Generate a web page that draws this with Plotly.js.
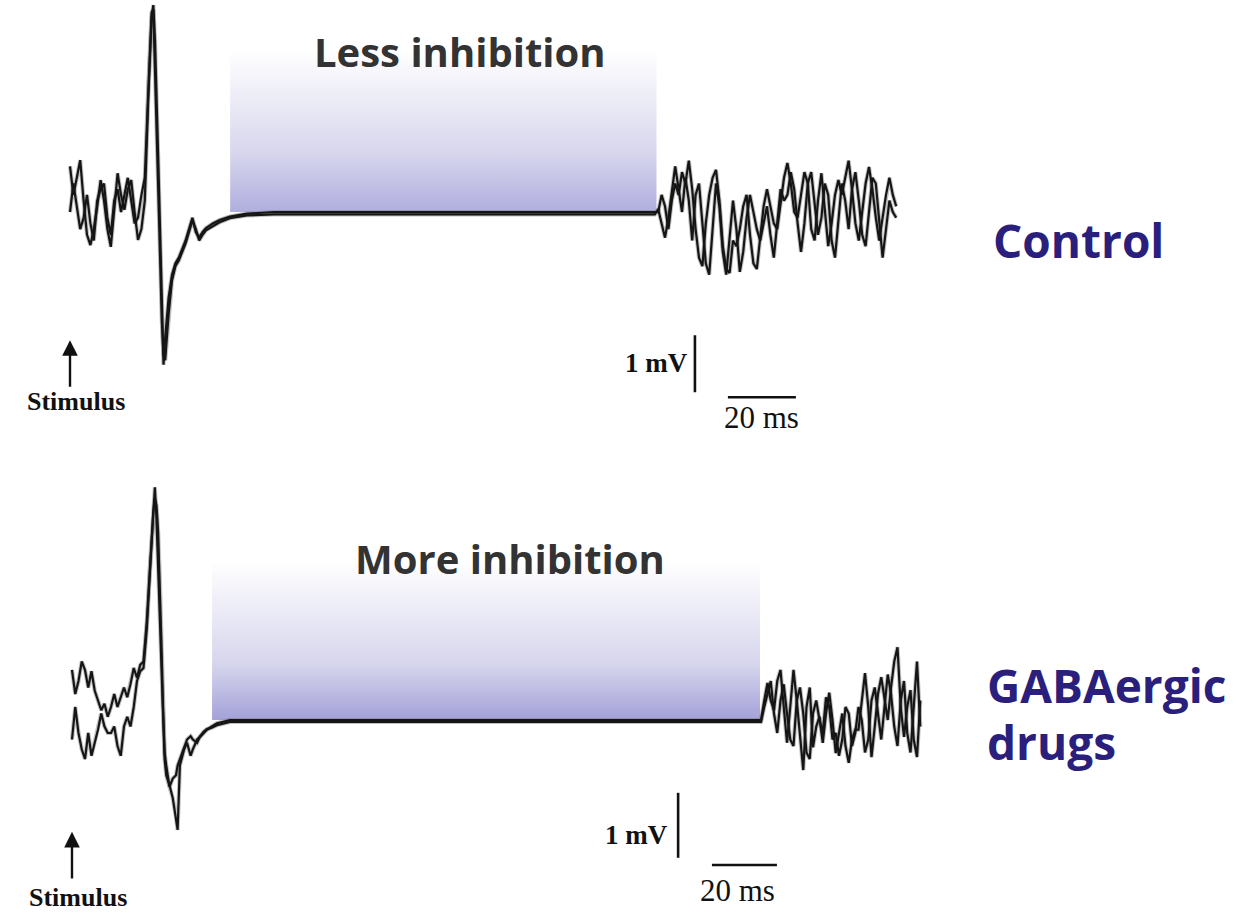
<!DOCTYPE html>
<html>
<head>
<meta charset="utf-8">
<script src="https://cdn.plot.ly/plotly-3.0.1.min.js"></script>
<style>html,body{margin:0;padding:0;background:#fff;}#chart{width:1258px;height:913px;}</style>
</head>
<body>
<div id="chart"></div>
<script>
// ---------- Control (top) panel: two superimposed sweeps, time in ms, voltage in mV ----------
const topPreTime = [0,1,2,3,4,5,6,7,8,9,10,11,12,13,14,15,16,17,18,19,20,21,22,23];
const topPreA = [0.8,0.3,0.6,0.91,0.2,-0.4,-0.58,-0.3,0.1,0.56,0.2,-0.3,-0.61,0.1,0.68,0.3,0.04,0.4,0.56,0.0,-0.49,-0.3,0.2,2.0];
const topPreB = [0.0,0.5,0.1,-0.3,-0.1,0.3,-0.2,-0.5,0.2,0.4,0.5,-0.1,-0.4,0.2,0.4,0.0,0.3,0.6,0.2,-0.2,-0.1,0.3,0.6,2.2];

const topSpikeTime = [24,24.5,25,26,27,27.5,28,29,30,31,32,33,34,35,36,37,38,39,40,42,44,47,52,60,100,140,172];
const topSpikeA = [3.4,3.63,3.0,0.8,-1.8,-2.68,-2.2,-1.5,-1.1,-0.9,-0.8,-0.65,-0.5,-0.3,-0.1,-0.35,-0.45,-0.35,-0.28,-0.2,-0.14,-0.08,-0.03,0,0,0,0];
const topSpikeB = [3.5,3.55,2.6,0.3,-1.9,-2.5,-2.6,-1.8,-1.2,-0.95,-0.85,-0.7,-0.55,-0.35,-0.15,-0.3,-0.5,-0.4,-0.32,-0.25,-0.18,-0.11,-0.06,-0.04,-0.04,-0.04,-0.04];

const topTailTime = [173,174,175,176,177,178,179,180,181,182,183,184,185,186,187,188,189,190,191,192,193,194,195,196,197,198,199,200,201,202,203,204,205,206,207,208,209,210,211,212,213,214,215,216,217,218,219,220,221,222,223,224,225,226,227,228,229,230,231,232,233,234,235,236,237,238,239,240,241,242,243];
const topTailA = [0.0,0.3,0.1,-0.3,0.2,0.5,0.3,0.7,0.5,0.9,
  0.4,-0.3,-0.8,-0.95,-0.2,0.3,0.6,0.74,0.2,-0.6,
  -1.0,-1.07,-0.5,-0.6,-0.3,0.1,0.3,-0.4,-0.9,-1.0,
  -0.4,0.1,0.4,0.1,-0.2,-0.3,0.2,0.6,0.86,0.5,
  0.0,-0.1,0.3,0.7,0.5,-0.3,-0.5,0.2,0.68,0.1,
  -0.6,-0.2,0.3,0.56,0.3,0.6,0.9,0.4,-0.2,-0.5,
  0.0,0.5,0.79,0.4,-0.1,-0.5,-0.1,0.3,0.6,0.3,
  0.1];
const topTailB = [0.05,-0.2,-0.45,-0.1,0.4,0.8,0.4,0.0,0.6,0.2,
  -0.5,0.3,0.5,-0.2,-0.9,-1.1,-0.3,0.5,0.1,-0.7,
  -1.1,-0.4,0.2,-0.3,-1.05,-0.7,-0.1,0.3,0.0,-0.3,
  -0.5,-0.2,0.1,-0.4,-0.8,-0.2,0.4,0.2,0.3,0.7,
  0.4,-0.2,-0.7,-0.2,0.5,0.7,0.2,-0.4,-0.1,0.5,
  0.3,-0.5,-0.8,-0.1,0.5,0.2,-0.3,0.4,0.7,0.2,
  -0.4,-0.6,0.0,0.6,0.5,-0.2,-0.8,-0.3,0.2,0.0,
  -0.1];

// ---------- GABAergic drugs (bottom) panel ----------
const botPreTime = [0,1,2,3,4,5,6,7,8,9,10,11,12,13,14,15,16,17,18,19,20,21,22];
const botPreA = [0.77,0.4,0.6,0.9,0.77,0.5,0.75,0.45,0.3,0.15,0.25,0.05,0.2,0.4,0.2,0.35,0.5,0.35,0.55,0.8,0.65,0.85,0.9];
const botPreB = [-0.3,0.2,-0.2,-0.45,-0.6,-0.2,-0.55,-0.35,-0.15,0.1,-0.1,-0.2,-0.2,-0.1,-0.4,-0.55,-0.1,0.05,-0.1,0.2,0.6,0.75,0.8];

const botSpikeTime = [23,24,25,25.5,26,26.5,27,27.5,28,28.5,29,30,31,32,32.5,33.2,34.5,35.4,36.5,37.2,38.5,39.4,40.5,41.5,43,44.6,48.6,60,100,150,211];
const botSpikeA = [1.5,2.4,3.3,3.58,3.1,2.4,1.5,0.8,0.0,-0.6,-0.85,-1.0,-1.2,-1.5,-1.69,-0.7,-0.45,-0.35,-0.55,-0.45,-0.3,-0.26,-0.2,-0.15,-0.1,-0.05,0.0,0,0,0,0];
const botSpikeB = [1.4,2.3,3.2,3.4,3.3,2.9,2.2,1.2,0.2,-0.5,-0.7,-1.03,-0.9,-0.85,-0.7,-0.6,-0.4,-0.3,-0.25,-0.3,-0.35,-0.25,-0.18,-0.14,-0.12,-0.08,-0.03,-0.03,-0.03,-0.03,-0.03];

const botTailTime = [212,213,214,215,216,217,218,219,220,221,222,223,224,225,226,227,228,229,230,231,232,233,234,235,236,237,238,239,240,241,242,243,244,245,246,247,248,249,250,251,252,253,254,255,256,257,258,259,260,261];
const botTailA = [0.0,0.3,0.57,0.3,0.15,0.6,0.77,0.2,-0.35,0.2,
  0.77,0.3,-0.3,-0.77,0.2,0.5,-0.42,-0.1,0.05,-0.35,
  0.1,0.42,0.0,-0.51,-0.2,0.1,-0.4,-0.66,-0.3,-0.15,
  -0.15,0.3,0.72,0.2,-0.57,-0.1,0.4,0.66,0.3,0.0,
  0.5,0.9,1.12,0.2,-0.26,0.2,0.46,-0.3,-0.57,0.3];
const botTailB = [-0.03,0.2,0.4,0.6,0.1,-0.2,0.3,0.55,0.1,-0.3,
  -0.4,0.3,0.5,0.1,-0.5,-0.6,0.1,0.3,0.0,-0.2,
  0.35,0.2,-0.3,-0.2,-0.55,-0.3,0.2,0.1,-0.4,-0.2,
  0.2,0.0,-0.5,-0.3,0.3,0.5,0.1,-0.3,0.2,0.7,
  0.4,-0.1,-0.4,0.3,0.6,-0.2,-0.5,0.2,0.9,-0.1];

// inhibition windows (ms) and labels
const topWindow = [47.1, 172.5];
const botWindow = [43.1, 211.7];
const topWindowHeight = 2.84;
const botWindowHeight = 2.45;
const windowLabels = ['Less inhibition', 'More inhibition'];
const conditionLabels = ['Control', 'GABAergic', 'drugs'];
const scaleBar = {ms: 20, mV: 1, msLabel: '20 ms', mVLabel: '1 mV'};
const stimulusLabel = 'Stimulus';

// ---------- build traces ----------
const cat = (...a) => [].concat(...a);
const haloStyle = {color: 'rgba(120,120,120,0.45)', width: 4.2};
const lineStyle = {color: '#151515', width: 2.2};

function windowTrace(win, h, xa, ya, bottomColor) {
  return {
    type: 'scatter', mode: 'lines', xaxis: xa, yaxis: ya,
    x: [win[0], win[1], win[1], win[0], win[0]],
    y: [0, 0, h, h, 0],
    fill: 'toself',
    fillgradient: {type: 'vertical', colorscale: [[0, bottomColor], [0.35, 'rgb(214,213,237)'], [1, 'rgb(255,255,255)']]},
    line: {width: 0}, hoverinfo: 'skip'
  };
}
function sweep(t, v, xa, ya, style) {
  return {type: 'scatter', mode: 'lines', x: t, y: v, xaxis: xa, yaxis: ya, line: style, hoverinfo: 'skip'};
}

const sweeps = [
  [cat(topPreTime, topSpikeTime, topTailTime), cat(topPreA, topSpikeA, topTailA), 'x', 'y'],
  [cat(topPreTime, topSpikeTime, topTailTime), cat(topPreB, topSpikeB, topTailB), 'x', 'y'],
  [cat(botPreTime, botSpikeTime, botTailTime), cat(botPreA, botSpikeA, botTailA), 'x2', 'y2'],
  [cat(botPreTime, botSpikeTime, botTailTime), cat(botPreB, botSpikeB, botTailB), 'x2', 'y2']
];

const traces = cat(
  [windowTrace(topWindow, topWindowHeight, 'x', 'y', 'rgb(176,174,222)'),
   windowTrace(botWindow, botWindowHeight, 'x2', 'y2', 'rgb(164,161,216)')],
  sweeps.map(s => sweep(s[0], s[1], s[2], s[3], haloStyle)),
  sweeps.map(s => sweep(s[0], s[1], s[2], s[3], lineStyle))
);

// ---------- scale bars ----------
function scaleShapes(xa, ya, vx, vTop, hx, hy) {
  const ln = {color: '#111', width: 2.6};
  return [
    {type: 'line', xref: xa, yref: ya, x0: vx, x1: vx, y0: vTop, y1: vTop - scaleBar.mV, line: ln},
    {type: 'line', xref: xa, yref: ya, x0: hx, x1: hx + scaleBar.ms, y0: hy, y1: hy, line: ln}
  ];
}
const shapes = cat(
  scaleShapes('x', 'y', 183.8, -2.16, 193.5, -3.25),
  scaleShapes('x2', 'y2', 186.5, -1.12, 196.9, -2.23)
);

const sansBold = {family: 'Open Sans', weight: 700};
const serif = {family: 'Liberation Serif', color: '#111'};

function ann(o) { return Object.assign({showarrow: false, xanchor: 'center', yanchor: 'middle'}, o); }

const annotations = [
  ann({xref: 'x', yref: 'y', x: 114.7, y: 2.81, text: windowLabels[0], font: Object.assign({size: 40, color: '#333333'}, sansBold)}),
  ann({xref: 'x2', yref: 'y2', x: 134.8, y: 2.49, text: windowLabels[1], font: Object.assign({size: 40, color: '#333333'}, sansBold)}),
  ann({xref: 'x', yref: 'y', x: 296.5, y: -0.49, text: conditionLabels[0], font: Object.assign({size: 46, color: '#2a1f7c'}, sansBold)}),
  ann({xref: 'x2', yref: 'y2', x: 280.9, y: 0.54, xanchor: 'left', text: conditionLabels[1], font: Object.assign({size: 46, color: '#2a1f7c'}, sansBold)}),
  ann({xref: 'x2', yref: 'y2', x: 280.9, y: -0.34, xanchor: 'left', text: conditionLabels[2], font: Object.assign({size: 46, color: '#2a1f7c'}, sansBold)}),
  // stimulus arrows
  {xref: 'x', yref: 'y', axref: 'x', ayref: 'y', x: 0, y: -2.25, ax: 0, ay: -3.09, text: '', showarrow: true, arrowhead: 2, arrowsize: 1.3, arrowwidth: 2.4, arrowcolor: '#111'},
  {xref: 'x2', yref: 'y2', axref: 'x2', ayref: 'y2', x: 0, y: -1.72, ax: 0, ay: -2.46, text: '', showarrow: true, arrowhead: 2, arrowsize: 1.3, arrowwidth: 2.4, arrowcolor: '#111'},
  ann({xref: 'x', yref: 'y', x: 1.9, y: -3.33, text: stimulusLabel, font: Object.assign({size: 26, weight: 700}, serif)}),
  ann({xref: 'x2', yref: 'paper', x: 1.85, y: 0, yanchor: 'bottom', borderpad: 0, text: stimulusLabel, font: Object.assign({size: 26, weight: 700}, serif)}),
  // scale bar labels
  ann({xref: 'x', yref: 'y', x: 182.4, y: -2.65, xanchor: 'right', text: scaleBar.mVLabel, font: Object.assign({size: 27, weight: 700}, serif)}),
  ann({xref: 'x', yref: 'y', x: 203.4, y: -3.6, text: scaleBar.msLabel, font: Object.assign({size: 31}, serif)}),
  ann({xref: 'x2', yref: 'y2', x: 184.0, y: -1.77, xanchor: 'right', text: scaleBar.mVLabel, font: Object.assign({size: 27, weight: 700}, serif)}),
  ann({xref: 'x2', yref: 'y2', x: 204.9, y: -2.62, text: scaleBar.msLabel, font: Object.assign({size: 31}, serif)})
];

const hiddenAxis = {visible: false, fixedrange: true, showgrid: false, zeroline: false};
const layout = {
  width: 1258, height: 913,
  margin: {l: 0, r: 0, t: 0, b: 0, pad: 0},
  paper_bgcolor: '#ffffff', plot_bgcolor: 'rgba(0,0,0,0)',
  showlegend: false,
  xaxis: Object.assign({domain: [0, 1], anchor: 'y', range: [-20.59, 349.41]}, hiddenAxis),
  yaxis: Object.assign({domain: [0.5, 1], anchor: 'x', range: [-4.289, 3.719]}, hiddenAxis),
  xaxis2: Object.assign({domain: [0, 1], anchor: 'y2', range: [-22.15, 364.92]}, hiddenAxis),
  yaxis2: Object.assign({domain: [0, 0.5], anchor: 'x2', range: [-2.969, 4.054]}, hiddenAxis),
  shapes: shapes,
  annotations: annotations
};

Plotly.newPlot('chart', traces, layout, {staticPlot: true, displayModeBar: false});
</script>
</body>
</html>
